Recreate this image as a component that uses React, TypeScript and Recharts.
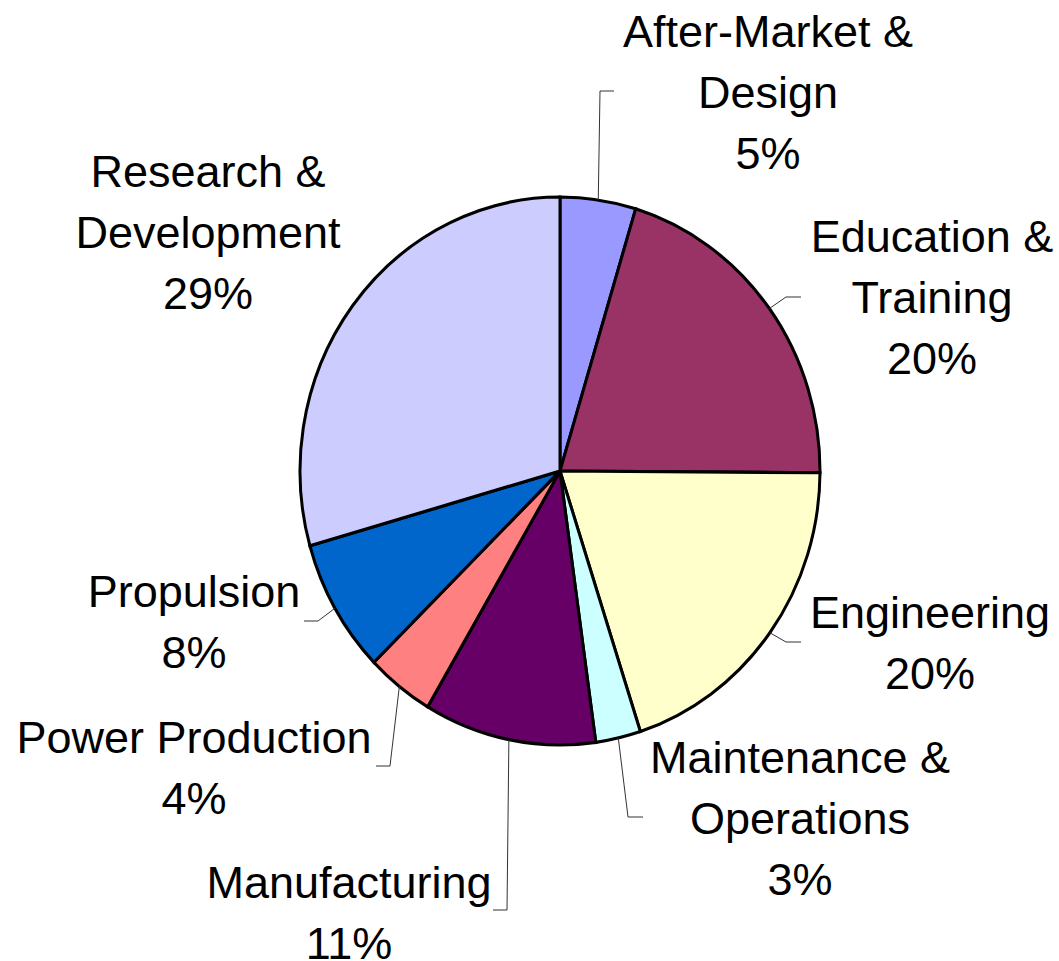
import React from 'react'
import { PieChart, Pie, Cell, Sector } from 'recharts'

const CATEGORIES = [
  'After-Market & Design',
  'Education & Training',
  'Engineering',
  'Maintenance & Operations',
  'Manufacturing',
  'Power Production',
  'Propulsion',
  'Research & Development',
]
// shares; labels show them rounded
const SHARES = [4.7, 20.4, 19.9, 2.8, 10.7, 4.2, 7.9, 29.4]
const COLORS = ['#9999FF', '#993366', '#FFFFCC', '#CCFFFF', '#660066', '#FF8080', '#0066CC', '#CCCCFF']

// label block: centre x / first baseline, offsets from the pie centre
const LABEL_AT: [number, number][] = [
  [208, -424], [372, -219], [370, 157], [240, 302],
  [-211, 427], [-366, 282], [-366, 136], [-352, -284],
]
// leader line elbow + end, offsets from the pie centre (null = no line)
const LEADER: ([number, number, number, number] | null)[] = [
  [40, -380, 54, -380],
  [226, -174, 241, -174],
  [226, 171, 241, 171],
  [68, 346, 83, 346],
  [-53, 439, -67, 439],
  [-170, 295, -184, 295],
  [-242, 150, -256, 150],
  null,
]

const W = 1059
const H = 961
const CX = 560
const CY = 471
const R = 260
const K = 274 / 260 // pie is drawn a bit taller than wide
const RAD = Math.PI / 180
const FONT = '"Liberation Sans", Arial, sans-serif'

const data = CATEGORIES.map((name, i) => ({ name, value: SHARES[i] }))

function splitName(name: string) {
  const i = name.indexOf('&')
  if (i < 0) return [name]
  return [name.slice(0, i + 1), name.slice(i + 1).trim()]
}

function EllipseSector(props: any) {
  const cy = props.cy ?? CY
  return (
    <g transform={`translate(0 ${cy}) scale(1 ${K}) translate(0 ${-cy})`}>
      <Sector {...props} />
    </g>
  )
}

function renderLabel(props: any) {
  const { index, midAngle, name, value } = props
  const cx = props.cx ?? CX
  const cy = props.cy ?? CY
  const r = props.outerRadius ?? R
  const [lx, ly] = LABEL_AT[index]
  const lines = [...splitName(name), `${Math.round(value)}%`]
  const ex = cx + r * Math.cos(-midAngle * RAD)
  const ey = cy + K * r * Math.sin(-midAngle * RAD)
  const ld = LEADER[index]
  return (
    <g key={`lbl-${index}`}>
      {ld && (
        <polyline
          points={`${ex},${ey} ${cx + ld[0]},${cy + ld[1]} ${cx + ld[2]},${cy + ld[3]}`}
          fill="none" stroke="#333" strokeWidth={1}
        />
      )}
      <text x={cx + lx} y={cy + ly} textAnchor="middle" fill="#000" fontSize={45} fontFamily={FONT}>
        {lines.map((t, j) => (
          <tspan key={j} x={cx + lx} dy={j === 0 ? 0 : 61}>{t}</tspan>
        ))}
      </text>
    </g>
  )
}

export default function App() {
  return (
    <div style={{ position: 'absolute', left: 0, top: 0, width: W, height: H, background: '#fff' }}>
      <PieChart width={W} height={H} margin={{ top: 0, right: 0, bottom: 0, left: 0 }}>
        <Pie
          data={data}
          dataKey="value"
          nameKey="name"
          cx={CX}
          cy={CY}
          outerRadius={R}
          startAngle={90}
          endAngle={-270}
          stroke="#000"
          strokeWidth={3}
          label={renderLabel}
          labelLine={false}
          shape={EllipseSector}
          inactiveShape={EllipseSector}
          activeShape={EllipseSector}
          isAnimationActive={false}
        >
          {data.map((d, i) => (
            <Cell key={d.name} fill={COLORS[i]} />
          ))}
        </Pie>
      </PieChart>
    </div>
  )
}
